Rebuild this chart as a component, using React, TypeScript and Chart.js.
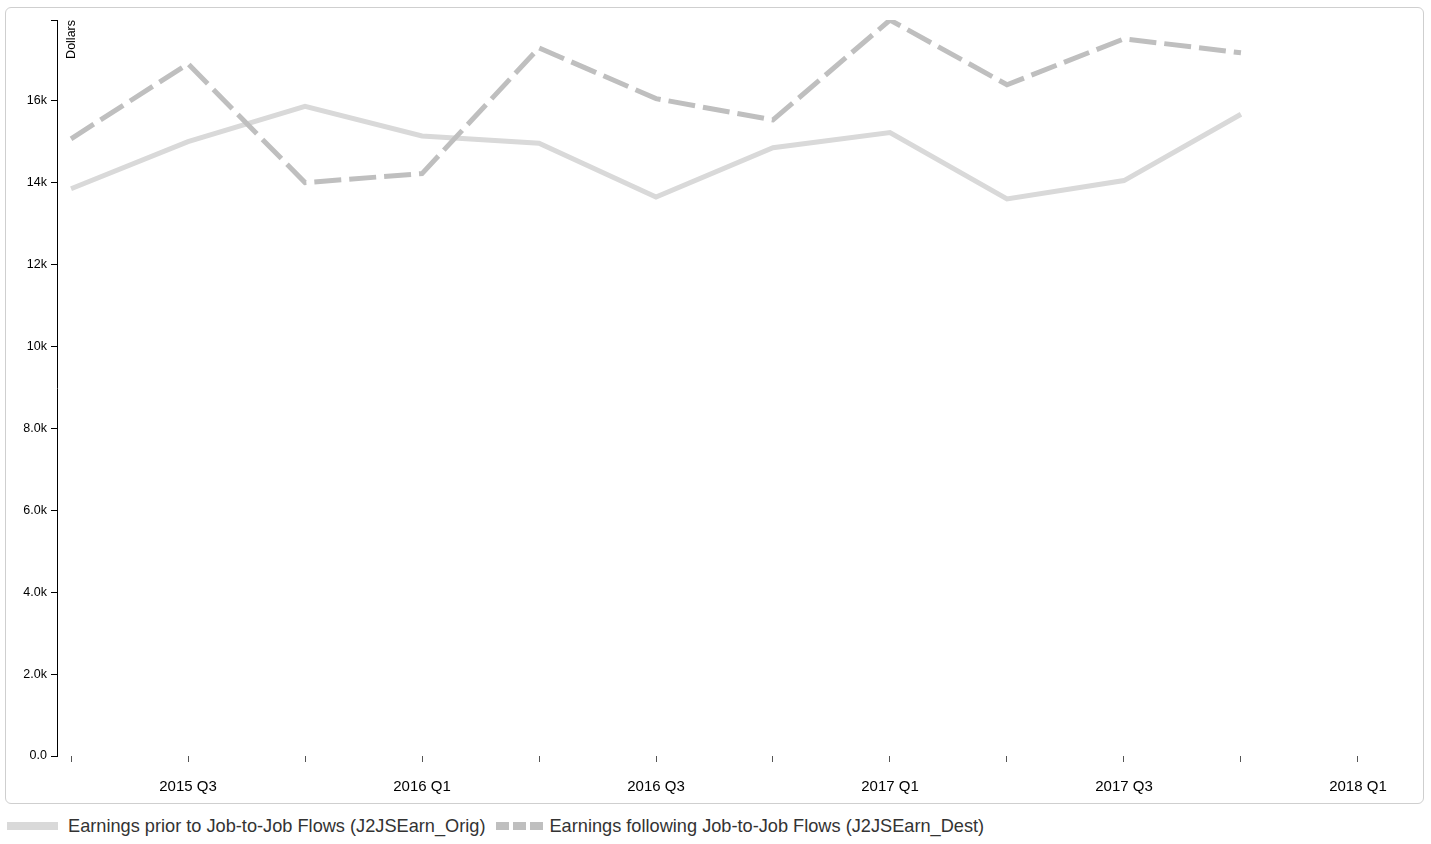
import React, { useEffect, useRef } from 'react';
import { Chart, registerables } from 'chart.js';

Chart.register(...registerables);

const quarters = [
  '2015 Q2', '2015 Q3', '2015 Q4', '2016 Q1', '2016 Q2', '2016 Q3',
  '2016 Q4', '2017 Q1', '2017 Q2', '2017 Q3', '2017 Q4', '2018 Q1'
];
const labelledQuarters = ['2015 Q3', '2016 Q1', '2016 Q3', '2017 Q1', '2017 Q3', '2018 Q1'];

// dollars
const earningsOrig = [13850, 15000, 15860, 15140, 14960, 13650, 14850, 15220, 13600, 14050, 15670];
const earningsDest = [15070, 16900, 14000, 14220, 17290, 16050, 15530, 17970, 16390, 17510, 17170];

const yTickValues = [0, 2000, 4000, 6000, 8000, 10000, 12000, 14000, 16000];
const yTickLabels = ['0.0', '2.0k', '4.0k', '6.0k', '8.0k', '10k', '12k', '14k', '16k'];

const FONT = '"Liberation Sans", Arial, Helvetica, sans-serif';
const ORIG_COLOR = '#d9d9d9';
const DEST_COLOR = '#bfbfbf';

// rotated "Dollars" title next to the y axis
const unitLabel = {
  id: 'unitLabel',
  afterDraw(chart: Chart) {
    const { ctx, chartArea } = chart;
    ctx.save();
    ctx.translate(chartArea.left + 18, chartArea.top);
    ctx.rotate(-Math.PI / 2);
    ctx.font = `12.5px ${FONT}`;
    ctx.fillStyle = '#000';
    ctx.textAlign = 'right';
    ctx.textBaseline = 'alphabetic';
    ctx.fillText('Dollars', 0, 0);
    ctx.restore();
  }
};

const EarningsChart: React.FC = () => {
  const canvasRef = useRef<HTMLCanvasElement>(null);
  const chartRef = useRef<Chart | null>(null);

  useEffect(() => {
    if (!canvasRef.current) return;
    const ctx = canvasRef.current.getContext('2d');
    if (!ctx) return;

    if (chartRef.current) {
      chartRef.current.destroy();
      chartRef.current = null;
    }

    const yMax = Math.max(...earningsOrig, ...earningsDest);

    chartRef.current = new Chart(ctx, {
      type: 'line',
      data: {
        datasets: [
          {
            label: 'Earnings prior to Job-to-Job Flows (J2JSEarn_Orig)',
            data: earningsOrig.map((v, i) => ({ x: i, y: v })),
            borderColor: ORIG_COLOR,
            borderWidth: 5,
            pointRadius: 0,
            tension: 0,
            fill: false,
            order: 2
          },
          {
            label: 'Earnings following Job-to-Job Flows (J2JSEarn_Dest)',
            data: earningsDest.map((v, i) => ({ x: i, y: v })),
            borderColor: DEST_COLOR,
            borderWidth: 5,
            borderDash: [27, 8],
            pointRadius: 0,
            tension: 0,
            fill: false,
            order: 1
          }
        ]
      },
      options: {
        animation: false,
        responsive: true,
        maintainAspectRatio: false,
        events: [],
        layout: { padding: { top: 12, right: 51, left: 0, bottom: 0 } },
        scales: {
          x: {
            type: 'linear',
            min: -0.12,
            max: 11.12,
            afterBuildTicks: (scale: any) => {
              scale.ticks = quarters.map((_, i) => ({ value: i }));
            },
            afterFit: (scale: any) => {
              scale.height = 47;
            },
            border: { display: false },
            grid: {
              drawOnChartArea: false,
              drawTicks: true,
              tickLength: 6,
              color: '#555',
              lineWidth: 1
            },
            ticks: {
              autoSkip: false,
              maxRotation: 0,
              padding: 16,
              color: '#000',
              font: { family: FONT, size: 15 },
              callback: (value: any) => {
                const q = quarters[Math.round(Number(value))];
                return labelledQuarters.includes(q) ? q : '';
              }
            }
          },
          y: {
            type: 'linear',
            min: 0,
            max: yMax,
            afterBuildTicks: (scale: any) => {
              scale.ticks = [...yTickValues, scale.max].map((v) => ({ value: v }));
            },
            afterFit: (scale: any) => {
              scale.width = 51;
            },
            border: { display: true, color: '#000', width: 1 },
            grid: {
              drawOnChartArea: false,
              drawTicks: true,
              tickLength: 6,
              color: '#000',
              lineWidth: 1
            },
            ticks: {
              padding: 4,
              color: '#000',
              font: { family: FONT, size: 12.5 },
              callback: (value: any) => {
                const idx = yTickValues.indexOf(Number(value));
                return idx >= 0 ? yTickLabels[idx] : '';
              }
            }
          }
        },
        plugins: {
          legend: { display: false },
          tooltip: { enabled: false }
        }
      },
      plugins: [unitLabel]
    });

    return () => {
      if (chartRef.current) {
        chartRef.current.destroy();
        chartRef.current = null;
      }
    };
  }, []);

  return (
    <div style={{ position: 'absolute', left: 0, top: 0, width: 1431, height: 844, background: '#fff', fontFamily: FONT }}>
      <div
        style={{
          position: 'absolute',
          left: 5,
          top: 7,
          width: 1419,
          height: 797,
          boxSizing: 'border-box',
          border: '1px solid #cfcfcf',
          borderRadius: 6
        }}
      >
        <div style={{ position: 'relative', width: 1417, height: 795 }}>
          <canvas ref={canvasRef}></canvas>
        </div>
      </div>
      <div
        style={{
          position: 'absolute',
          left: 7,
          top: 815,
          height: 22,
          display: 'flex',
          alignItems: 'center',
          fontSize: 18.2,
          color: '#333',
          whiteSpace: 'nowrap'
        }}
      >
        <div style={{ width: 51, height: 8, background: ORIG_COLOR, marginRight: 10 }} />
        <span style={{ marginRight: 11 }}>Earnings prior to Job-to-Job Flows (J2JSEarn_Orig)</span>
        <div style={{ display: 'flex', marginRight: 6 }}>
          <div style={{ width: 13, height: 8, background: DEST_COLOR, marginRight: 4 }} />
          <div style={{ width: 13, height: 8, background: DEST_COLOR, marginRight: 4 }} />
          <div style={{ width: 13, height: 8, background: DEST_COLOR }} />
        </div>
        <span>Earnings following Job-to-Job Flows (J2JSEarn_Dest)</span>
      </div>
    </div>
  );
};

export default function App() {
  return <EarningsChart />;
}
